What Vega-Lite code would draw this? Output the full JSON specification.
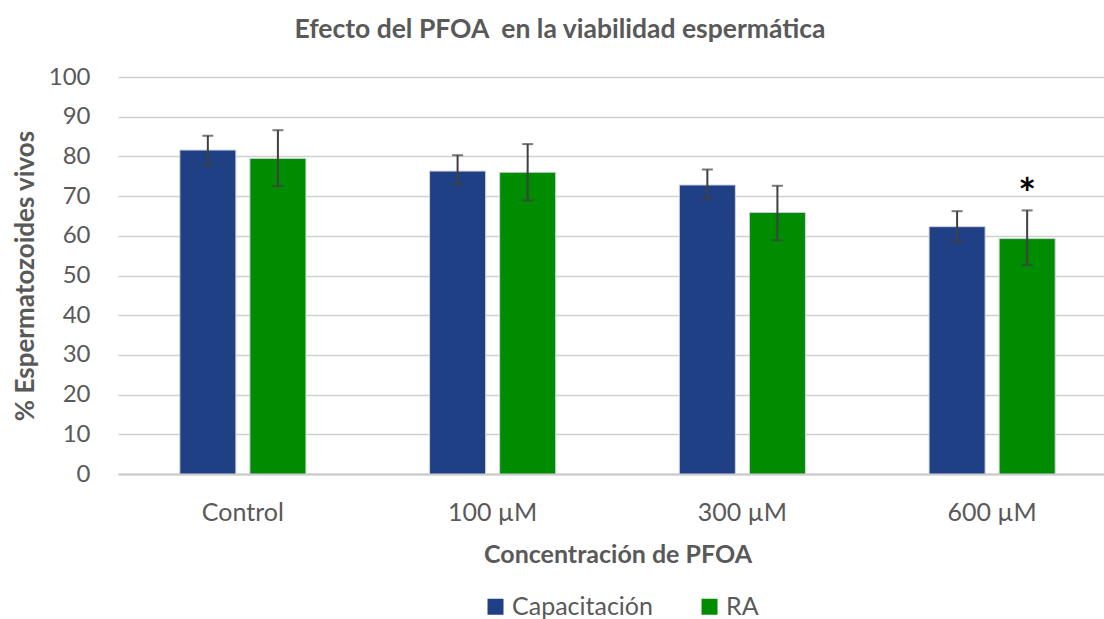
{
  "$schema": "https://vega.github.io/schema/vega-lite/v6.json",
  "width": 986,
  "height": 397,
  "autosize": {"type": "none"},
  "padding": {"left": 118, "top": 77, "right": 0, "bottom": 145},
  "background": "white",
  "title": {
    "text": "Efecto del PFOA\u00a0 en la viabilidad espermática",
    "font": "Lato",
    "fontSize": 26.5,
    "fontWeight": "bold",
    "color": "#595959",
    "anchor": "middle",
    "frame": "group",
    "dx": -51,
    "offset": 22
  },
  "config": {
    "view": {"stroke": null},
    "font": "Lato",
    "axisY": {
      "domain": false,
      "ticks": false,
      "grid": true,
      "gridColor": "#d0d0d0",
      "gridWidth": 1.6,
      "labelOverlap": false,
      "labelFontSize": 24,
      "labelColor": "#595959",
      "labelPadding": 28,
      "titleFontSize": 26,
      "titleFontWeight": "bold",
      "titleColor": "#595959",
      "titlePadding": 10
    }
  },
  "data": {
    "values": [
      {"conc": "Control", "grupo": "Capacitación", "valor": 81.6, "lo": 77.8, "hi": 85.2, "sig": ""},
      {"conc": "Control", "grupo": "RA", "valor": 79.5, "lo": 72.5, "hi": 86.6, "sig": ""},
      {"conc": "100 µM", "grupo": "Capacitación", "valor": 76.3, "lo": 72.9, "hi": 80.3, "sig": ""},
      {"conc": "100 µM", "grupo": "RA", "valor": 76.0, "lo": 68.9, "hi": 83.1, "sig": ""},
      {"conc": "300 µM", "grupo": "Capacitación", "valor": 72.8, "lo": 69.3, "hi": 76.7, "sig": ""},
      {"conc": "300 µM", "grupo": "RA", "valor": 65.9, "lo": 58.9, "hi": 72.6, "sig": ""},
      {"conc": "600 µM", "grupo": "Capacitación", "valor": 62.3, "lo": 58.4, "hi": 66.2, "sig": ""},
      {"conc": "600 µM", "grupo": "RA", "valor": 59.3, "lo": 52.6, "hi": 66.4, "sig": "*"}
    ]
  },
  "encoding": {
    "x": {
      "field": "conc",
      "type": "nominal",
      "sort": ["Control", "100 µM", "300 µM", "600 µM"],
      "scale": {"range": [0, 999], "paddingInner": 0.495, "paddingOuter": 0.2475},
      "title": "Concentración de PFOA",
      "axis": {
        "labelAngle": 0,
        "labelFontSize": 25,
        "labelColor": "#595959",
        "labelPadding": 26,
        "ticks": false,
        "domain": true,
        "domainColor": "#c8c8c8",
        "domainWidth": 2,
        "titleFontSize": 25,
        "titleFontWeight": "bold",
        "titleColor": "#595959",
        "titlePadding": 17,
        "titleX": 499.5
      }
    },
    "xOffset": {
      "field": "grupo",
      "type": "nominal",
      "sort": ["Capacitación", "RA"],
      "scale": {"paddingInner": 0.2, "paddingOuter": 0}
    }
  },
  "layer": [
    {
      "mark": {"type": "bar", "stroke": "#cfd3dc", "strokeWidth": 1},
      "encoding": {
        "y": {
          "field": "valor",
          "type": "quantitative",
          "scale": {"domain": [0, 100]},
          "title": "% Espermatozoides vivos",
          "axis": {"values": [0, 10, 20, 30, 40, 50, 60, 70, 80, 90, 100]}
        },
        "color": {
          "field": "grupo",
          "type": "nominal",
          "sort": ["Capacitación", "RA"],
          "scale": {"domain": ["Capacitación", "RA"], "range": ["#1F4085", "#008C00"]},
          "legend": {
            "orient": "none",
            "legendX": 365,
            "legendY": 517,
            "direction": "horizontal",
            "title": null,
            "labelFontSize": 25,
            "labelColor": "#595959",
            "symbolType": "square",
            "symbolSize": 256,
            "symbolStrokeWidth": 0,
            "columnPadding": 44
          }
        }
      }
    },
    {
      "mark": {"type": "rule", "color": "#404040", "strokeWidth": 2},
      "encoding": {
        "y": {"field": "lo", "type": "quantitative", "title": "% Espermatozoides vivos", "axis": {"values": [0, 10, 20, 30, 40, 50, 60, 70, 80, 90, 100]}},
        "y2": {"field": "hi"}
      }
    },
    {
      "mark": {"type": "tick", "color": "#404040", "thickness": 2, "size": 11, "orient": "horizontal"},
      "encoding": {"y": {"field": "lo", "type": "quantitative", "title": "% Espermatozoides vivos", "axis": {"values": [0, 10, 20, 30, 40, 50, 60, 70, 80, 90, 100]}}}
    },
    {
      "mark": {"type": "tick", "color": "#404040", "thickness": 2, "size": 11, "orient": "horizontal"},
      "encoding": {"y": {"field": "hi", "type": "quantitative", "title": "% Espermatozoides vivos", "axis": {"values": [0, 10, 20, 30, 40, 50, 60, 70, 80, 90, 100]}}}
    },
    {
      "mark": {"type": "text", "fontSize": 42, "fontWeight": "bold", "color": "#000000", "baseline": "middle", "dy": -14},
      "encoding": {
        "y": {"field": "hi", "type": "quantitative", "title": "% Espermatozoides vivos", "axis": {"values": [0, 10, 20, 30, 40, 50, 60, 70, 80, 90, 100]}},
        "text": {"field": "sig"}
      }
    }
  ]
}
